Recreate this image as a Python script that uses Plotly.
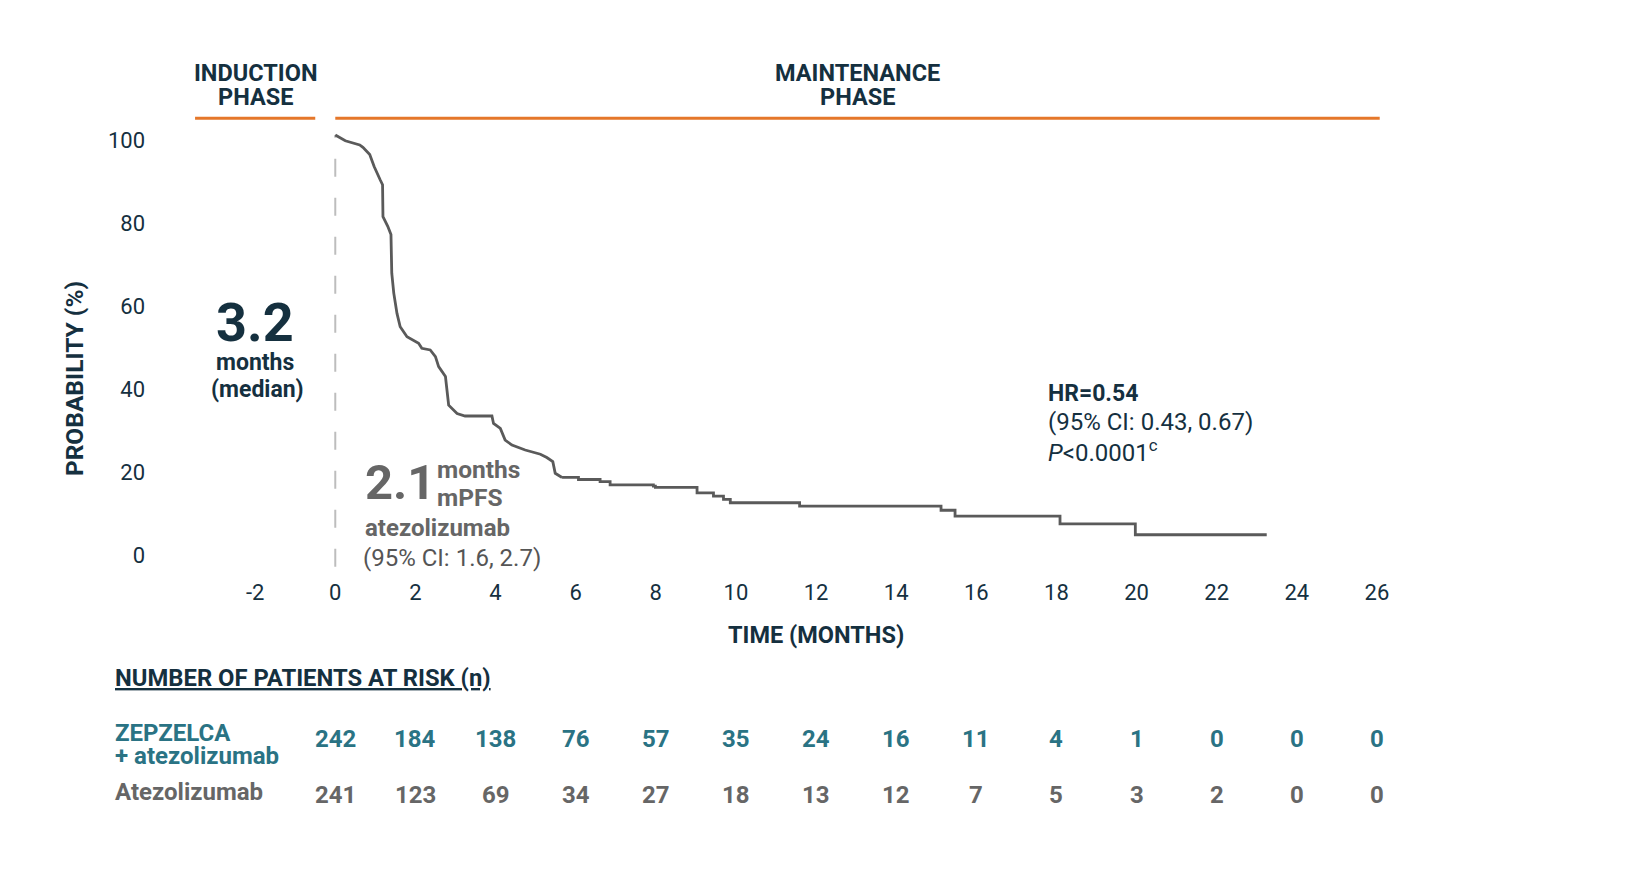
import plotly.graph_objects as go

# ---------------- data ----------------
# Kaplan-Meier PFS curve, atezolizumab arm (months, % progression-free)
TIME_MONTHS = [0, 0.25, 0.61, 0.69, 0.86, 0.97, 1.12, 1.18, 1.19, 1.31, 1.39, 1.41, 1.46, 1.54,
               1.62, 1.79, 2.08, 2.16, 2.37, 2.50, 2.58, 2.75, 2.83, 3.04, 3.24, 3.91, 3.95,
               4.12, 4.24, 4.41, 4.74, 5.12, 5.28, 5.43, 5.49, 5.66,
               6.07, 6.61, 6.86, 7.94, 7.99, 9.03, 9.44, 9.69, 9.86, 11.59, 15.12, 15.47,
               18.09, 19.97, 23.25]
SURVIVAL_PCT = [100, 98.6, 97.6, 97.0, 95.3, 92.4, 89.2, 88.0, 80.3, 78.0, 76.0, 66.7, 61.9, 57.0,
                53.8, 51.4, 49.8, 48.6, 48.2, 46.6, 44.2, 41.8, 34.9, 32.9, 32.3, 32.3, 30.5,
                29.3, 26.5, 25.3, 24.1, 23.1, 22.3, 21.3, 18.5, 17.5,
                17.0, 16.5, 15.7, 15.4, 15.1, 13.8, 13.0, 12.2, 11.4, 10.6, 9.6, 8.2,
                6.3, 3.7, 3.7]
# early, densely-stepped part is drawn as a polyline; the tail as steps
SMOOTH_UNTIL = 5.66

X_TICKS = [-2, 0, 2, 4, 6, 8, 10, 12, 14, 16, 18, 20, 22, 24, 26]
Y_TICKS = [0, 20, 40, 60, 80, 100]

RISK_TIMES = [0, 2, 4, 6, 8, 10, 12, 14, 16, 18, 20, 22, 24, 26]
RISK_ZEP = [242, 184, 138, 76, 57, 35, 24, 16, 11, 4, 1, 0, 0, 0]
RISK_ATEZO = [241, 123, 69, 34, 27, 18, 13, 12, 7, 5, 3, 2, 0, 0]

PHASE_NAMES = ["INDUCTION", "MAINTENANCE"]
PHASE_START = [-3.5, 0]
PHASE_END = [-0.5, 26.07]

# ---------------- style ----------------
FONT = "Roboto"
NAVY = "#15303f"
GRAY = "#666666"
CURVE = "#5a5a5a"
TEAL = "#2a7384"
ORANGE = "#e5772a"

XR = [-4.5, 27.5]
YR = [-6, 126]


def px(t):
    return (t - XR[0]) / (XR[1] - XR[0])


def py(p):
    return (p - YR[0]) / (YR[1] - YR[0])


fig = go.Figure()

n_smooth = sum(1 for t in TIME_MONTHS if t <= SMOOTH_UNTIL)
fig.add_trace(go.Scatter(
    x=TIME_MONTHS[:n_smooth], y=SURVIVAL_PCT[:n_smooth], mode="lines",
    line=dict(color=CURVE, width=2.8, shape="linear"),
    hoverinfo="skip", showlegend=False,
))
fig.add_trace(go.Scatter(
    x=TIME_MONTHS[n_smooth - 1:], y=SURVIVAL_PCT[n_smooth - 1:], mode="lines",
    line=dict(color=CURVE, width=2.8, shape="hv"),
    hoverinfo="skip", showlegend=False,
))

shapes = []
annotations = []

# dashed line at start of maintenance
shapes.append(dict(type="line", xref="x", yref="y", x0=0, x1=0, y0=-4, y1=100,
                   line=dict(color="#bdbdbd", width=2, dash="18px,21px"), layer="below"))

# phase bars & labels
for name, s, e in zip(PHASE_NAMES, PHASE_START, PHASE_END):
    shapes.append(dict(type="line", xref="x", yref="y", x0=s, x1=e, y0=104, y1=104,
                       line=dict(color=ORANGE, width=3)))
    mid = (s + e) / 2
    annotations.append(dict(x=mid, y=114.9, xref="x", yref="y", text="<b>%s</b>" % name,
                            showarrow=False, xanchor="center", yanchor="middle",
                            font=dict(family=FONT, size=23.5, color=NAVY)))
    annotations.append(dict(x=mid, y=109.2, xref="x", yref="y", text="<b>PHASE</b>",
                            showarrow=False, xanchor="center", yanchor="middle",
                            font=dict(family=FONT, size=23.5, color=NAVY)))


def ann(x, y, text, size, color, xanchor="left", paper_x=False, paper_y=False, **kw):
    d = dict(x=px(x) if paper_x else x, y=py(y) if paper_y else y,
             xref="paper" if paper_x else "x", yref="paper" if paper_y else "y",
             text=text, showarrow=False, xanchor=xanchor, yanchor="middle",
             font=dict(family=FONT, size=size, color=color))
    d.update(kw)
    annotations.append(d)


# 3.2 months (median)
ann(-2.0, 54.8, "<b>3.2</b>", 54, NAVY, "center")
ann(-2.0, 45.3, "<b>months</b>", 23, NAVY, "center")
ann(-1.95, 38.8, "<b>(median)</b>", 23, NAVY, "center")

# 2.1 months mPFS atezolizumab
ann(0.70, 16.3, "<b>2.1</b>", 49, GRAY, "left")
ann(2.48, 19.4, "<b>months</b>", 24.5, GRAY, "left")
ann(2.48, 12.7, "<b>mPFS</b>", 24.5, GRAY, "left")
ann(0.70, 5.3, "<b>atezolizumab</b>", 24, GRAY, "left")
ann(0.64, -1.9, "(95% CI: 1.6, 2.7)", 24, "#555555", "left")

# HR block
ann(17.73, 37.6, "<b>HR=0.54</b>", 23, NAVY, "left")
ann(17.73, 30.9, "(95% CI: 0.43, 0.67)", 24, NAVY, "left")
ann(17.73, 23.9, "<i>P</i>&lt;0.0001<sup>c</sup>", 24, NAVY, "left")

# axis titles
ann(12.0, -20.4, "<b>TIME (MONTHS)</b>", 23.5, NAVY, "center", paper_y=True)
ann(-6.52, 41.2, "<b>PROBABILITY (%)</b>", 24.5, NAVY, "center", paper_x=True, textangle=-90)

# at-risk table
LEFT = -5.54
ann(LEFT, -30.7, "<b>NUMBER OF PATIENTS AT RISK (n)</b>", 23.8, NAVY, "left",
    paper_x=True, paper_y=True)
annotations[-1]["font"]["lineposition"] = "under"
ann(LEFT, -44.1, "<b>ZEPZELCA</b>", 24, TEAL, "left", paper_x=True, paper_y=True)
ann(LEFT, -49.5, "<b>+ atezolizumab</b>", 24, TEAL, "left", paper_x=True, paper_y=True)
ann(LEFT, -58.2, "<b>Atezolizumab</b>", 24, GRAY, "left", paper_x=True, paper_y=True)
for t, v in zip(RISK_TIMES, RISK_ZEP):
    ann(t, -45.4, "<b>%d</b>" % v, 24, TEAL, "center", paper_y=True)
for t, v in zip(RISK_TIMES, RISK_ATEZO):
    ann(t, -59.1, "<b>%d</b>" % v, 24, GRAY, "center", paper_y=True)

# the page body has an 8px default margin; compensate so the plot area sits as in the reference
fig.update_layout(
    width=1650, height=870,
    margin=dict(l=147, r=221, t=19, b=303),
    paper_bgcolor="white", plot_bgcolor="white",
    shapes=shapes, annotations=annotations,
    showlegend=False,
    xaxis=dict(range=XR, tickvals=X_TICKS, ticktext=[str(v) for v in X_TICKS],
               showgrid=False, zeroline=False, showline=False, ticks="",
               tickfont=dict(family=FONT, size=22, color=NAVY), ticklabelstandoff=2),
    yaxis=dict(range=YR, tickvals=Y_TICKS, showgrid=False, zeroline=False,
               showline=False, ticks="", tickfont=dict(family=FONT, size=22, color=NAVY),
               ticklabelstandoff=9, ticklabelshift=5),
)

fig.write_html("out.html")
